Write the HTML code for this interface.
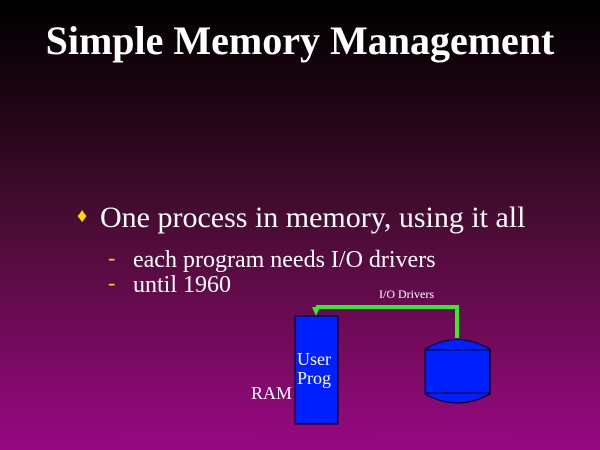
<!DOCTYPE html>
<html><head><style>
body{margin:0;width:600px;height:450px;overflow:hidden;background:linear-gradient(#000 0%,#1a0410 20%,#4a0c34 50%,#7a0a62 80%,#980884 100%);font-family:"Liberation Serif",serif;color:#fff;position:relative}
.a{position:absolute;white-space:nowrap}
</style></head><body>
<div class="a" style="left:0;width:600px;text-align:center;top:17px;font-size:40px;font-weight:bold">Simple Memory Management</div>
<div class="a" style="left:77px;top:205px;font-size:20px;color:#ffd800">♦</div>
<div class="a" style="left:100px;top:201px;font-size:30px">One process in memory, using it all</div>
<div class="a" style="left:108px;top:245px;font-size:22px;color:#ffd800">-</div>
<div class="a" style="left:133px;top:247px;font-size:24px">each program needs I/O drivers</div>
<div class="a" style="left:108px;top:270px;font-size:22px;color:#ffd800">-</div>
<div class="a" style="left:133px;top:272px;font-size:24px">until 1960</div>
<div class="a" style="left:379px;top:287px;font-size:12px">I/O Drivers</div>
<svg class="a" style="left:0;top:0" width="600" height="450">
<rect x="295" y="316" width="43" height="108" fill="#0020ff" stroke="#000"/>
<polyline points="316,307 457,307 457,338" fill="none" stroke="#33ee22" stroke-width="4"/>
<polygon points="312,307 320,307 316,316" fill="#33ee22"/>
<path d="M425,349 Q457,330 490,349 L490,394 Q457,412 425,394 Z" fill="#0020ff" stroke="#000"/>
<line x1="425" y1="350" x2="490" y2="350" stroke="#000"/>
<line x1="425" y1="393" x2="490" y2="393" stroke="#000"/>
</svg>
<div class="a" style="left:297px;top:350px;font-size:18px;line-height:19px">User<br>Prog</div>
<div class="a" style="left:251px;top:383px;font-size:18px">RAM</div>
</body></html>
